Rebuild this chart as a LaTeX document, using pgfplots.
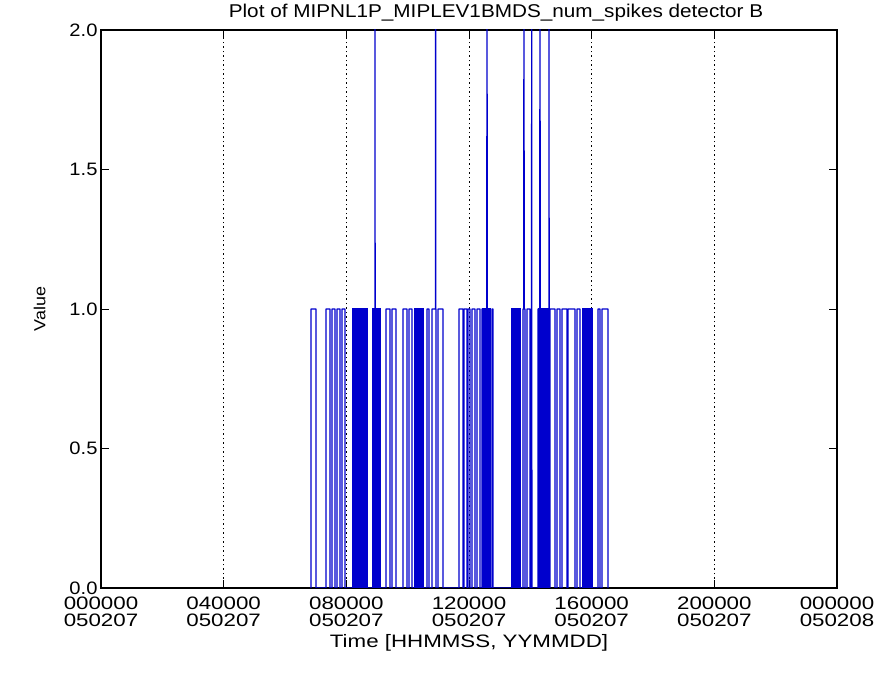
\documentclass[border=0pt]{standalone}
\usepackage{pgfplots}
\pgfplotsset{compat=1.18}
\usepackage{fontspec}
\setmainfont{Liberation Sans}[FakeStretch=1.12]
\newfontfamily\idl{Liberation Sans}[FakeStretch=1.12]
\newfontfamily\idlw{Liberation Sans}[FakeStretch=1.24]
\definecolor{idlblue}{RGB}{0,0,205}
\newcommand{\tl}[2]{\textnormal{\idlw\fontsize{18}{14.5}\selectfont\begin{tabular}{@{}c@{}}#1\\#2\end{tabular}}}
\begin{document}
\begin{tikzpicture}[x=1pt,y=1pt]
\useasboundingbox[fill=white] (0,0) rectangle (889,685);
\begin{axis}[
  at={(101pt,97pt)}, anchor=south west,
  scale only axis, width=736pt, height=558pt,
  xmin=0, xmax=24, ymin=0, ymax=2,
  /pgf/number format/assume math mode=true,
  xtick={0,4,8,12,16,20,24},
  xticklabels={{\tl{000000}{050207}},{\tl{040000}{050207}},{\tl{080000}{050207}},{\tl{120000}{050207}},{\tl{160000}{050207}},{\tl{200000}{050207}},{\tl{000000}{050208}}},
  xticklabel style={yshift=-5pt},
  ytick={0,0.5,1,1.5,2},
  yticklabel={\textnormal{\idl\fontsize{18}{18}\selectfont\pgfmathprintnumber[fixed,fixed zerofill,precision=1,assume math mode=true]{\tick}}},
  tick align=inside, major tick length=8pt,
  tick style={black, line width=0.8pt},
  xmajorgrids, grid style={black, line width=1pt, dash pattern=on 1.5pt off 3pt},
  axis line style={black, line width=1.3pt},
  xlabel={\textnormal{\idlw\fontsize{18}{20}\selectfont Time [HHMMSS, YYMMDD]}},
  xlabel style={yshift=3pt},
  ylabel={\textnormal{\idl\fontsize{16}{18}\selectfont Value}},
  ylabel style={yshift=17pt},
  clip=true,
]
% dense blocks
\addplot[fill=idlblue, draw=idlblue, line width=1pt] coordinates {(8.217,0)(8.217,1)(8.674,1)(8.674,0)};
\addplot[fill=idlblue, draw=idlblue, line width=1pt] coordinates {(8.837,0)(8.837,1)(9.098,1)(9.098,0)};
\addplot[fill=idlblue, draw=idlblue, line width=1pt] coordinates {(10.239,0)(10.239,1)(10.500,1)(10.500,0)};
\addplot[fill=idlblue, draw=idlblue, line width=1pt] coordinates {(12.424,0)(12.424,1)(12.685,1)(12.685,0)};
\addplot[fill=idlblue, draw=idlblue, line width=1pt] coordinates {(13.402,0)(13.402,1)(13.663,1)(13.663,0)};
\addplot[fill=idlblue, draw=idlblue, line width=1pt] coordinates {(14.250,0)(14.250,1)(14.576,1)(14.576,0)};
\addplot[fill=idlblue, draw=idlblue, line width=1pt] coordinates {(15.685,0)(15.685,1)(16.011,1)(16.011,0)};
% pulse train
\addplot[idlblue, line width=1.3pt, line join=round] coordinates {
(6.848,0)(6.848,1)(7.011,1)(7.011,0)
(7.337,0)(7.337,1)(7.467,1)(7.467,0)
(7.533,0)(7.533,1)(7.630,1)(7.630,0)
(7.696,0)(7.696,1)(7.793,1)(7.793,0)
(7.859,0)(7.859,1)(7.957,1)(7.957,0)
(8.930,0)(8.935,3)(8.940,0)
(9.293,0)(9.293,1)(9.424,1)(9.424,0)
(9.489,0)(9.489,1)(9.620,1)(9.620,0)
(9.848,0)(9.848,1)(9.978,1)(9.978,0)
(10.043,0)(10.043,1)(10.141,1)(10.141,0)
(10.630,0)(10.630,1)(10.696,1)(10.696,0)
(10.793,0)(10.793,1)(10.906,1)(10.911,3)(10.916,1)(10.924,1)(10.924,0)
(10.989,0)(10.989,1)(11.152,1)(11.152,0)
(11.674,0)(11.674,1)(11.804,1)(11.804,0)
(11.837,0)(11.837,1)(11.935,1)(11.935,0)
(11.967,0)(11.967,1)(12.033,1)(12.033,0)
(12.098,0)(12.098,1)(12.196,1)(12.196,0)
(12.261,0)(12.261,1)(12.359,1)(12.359,0)
(12.424,0)(12.424,1)(12.582,1)(12.587,3)(12.592,1)(12.685,1)(12.685,0)
(12.750,0)(12.750,1)(12.783,1)(12.783,0)
(13.761,0)(13.761,1)(13.788,1)(13.793,3)(13.798,1)(13.826,1)(13.826,0)
(13.891,0)(13.891,1)(13.989,1)(13.989,0)
(14.040,0)(14.045,3)(14.050,0)
(14.250,0)(14.250,1)(14.310,1)(14.315,3)(14.320,1)(14.576,1)(14.576,0)
(14.604,0)(14.609,3)(14.614,0)
(14.641,0)(14.641,1)(14.804,1)(14.804,0)
(14.870,0)(14.870,1)(14.967,1)(14.967,0)
(15.033,0)(15.033,1)(15.196,1)(15.196,0)
(15.228,0)(15.228,1)(15.457,1)(15.457,0)
(15.522,0)(15.522,1)(15.620,1)(15.620,0)
(16.207,0)(16.207,1)(16.272,1)(16.272,0)
(16.337,0)(16.337,1)(16.533,1)(16.533,0)
};
\end{axis}
\node[font=\idl\fontsize{18.5}{20}\selectfont] at (496,672) {Plot of MIPNL1P\_MIPLEV1BMDS\_num\_spikes detector B};
\end{tikzpicture}
\end{document}
